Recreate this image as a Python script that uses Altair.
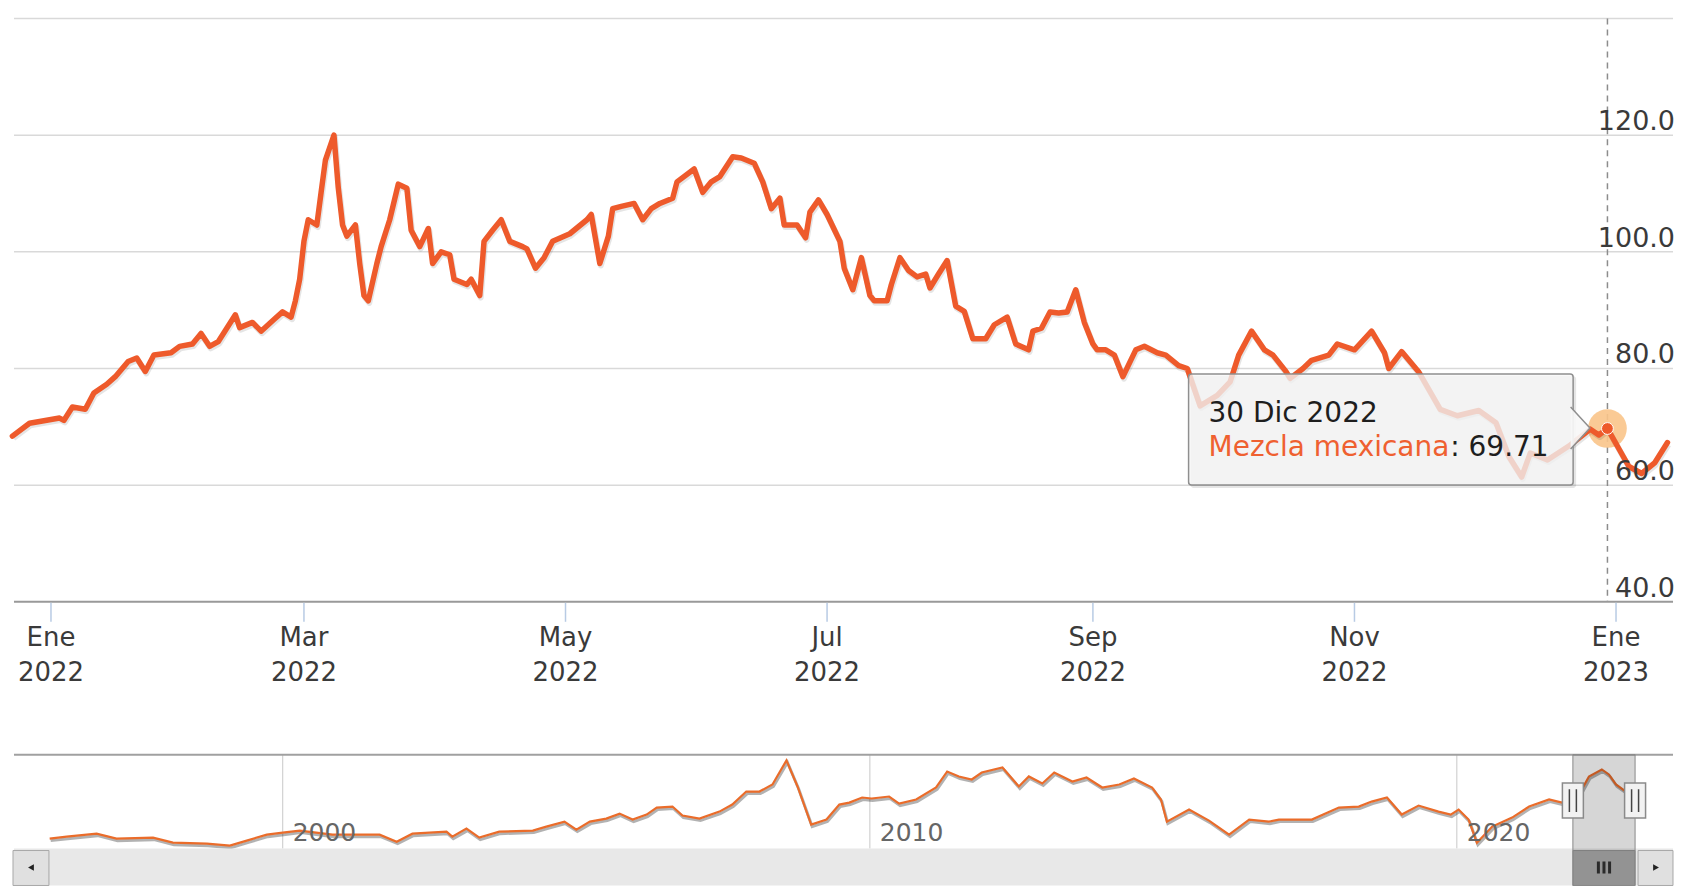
import altair as alt
import pandas as pd

# ---------------- data ----------------
main_dates = ["2021-12-23","2021-12-27","2022-01-03","2022-01-04","2022-01-06","2022-01-09","2022-01-11","2022-01-14","2022-01-16","2022-01-19",
"2022-01-21","2022-01-23","2022-01-25","2022-01-29","2022-01-31","2022-02-03","2022-02-05","2022-02-07","2022-02-09","2022-02-13",
"2022-02-14","2022-02-17","2022-02-19","2022-02-22","2022-02-24","2022-02-26","2022-02-27","2022-02-28","2022-03-01","2022-03-02",
"2022-03-04","2022-03-05","2022-03-06","2022-03-08","2022-03-09","2022-03-10","2022-03-11","2022-03-13","2022-03-14","2022-03-15",
"2022-03-16","2022-03-18","2022-03-19","2022-03-21","2022-03-23","2022-03-25","2022-03-26","2022-03-28","2022-03-30","2022-03-31",
"2022-04-02","2022-04-04","2022-04-05","2022-04-08","2022-04-09","2022-04-11","2022-04-12","2022-04-14","2022-04-16","2022-04-18",
"2022-04-21","2022-04-22","2022-04-24","2022-04-26","2022-04-28","2022-05-02","2022-05-06","2022-05-07","2022-05-09","2022-05-11",
"2022-05-12","2022-05-14","2022-05-17","2022-05-19","2022-05-21","2022-05-23","2022-05-26","2022-05-27","2022-05-31","2022-06-02",
"2022-06-04","2022-06-06","2022-06-09","2022-06-11","2022-06-14","2022-06-16","2022-06-18","2022-06-20","2022-06-21","2022-06-24",
"2022-06-26","2022-06-27","2022-06-29","2022-07-01","2022-07-04","2022-07-05","2022-07-07","2022-07-09","2022-07-11","2022-07-12",
"2022-07-15","2022-07-16","2022-07-18","2022-07-20","2022-07-22","2022-07-24","2022-07-25","2022-07-27","2022-07-29","2022-07-31",
"2022-08-02","2022-08-04","2022-08-07","2022-08-09","2022-08-12","2022-08-14","2022-08-17","2022-08-18","2022-08-20","2022-08-22",
"2022-08-24","2022-08-26","2022-08-28","2022-08-30","2022-09-01","2022-09-02","2022-09-04","2022-09-06","2022-09-08","2022-09-11",
"2022-09-13","2022-09-16","2022-09-18","2022-09-21","2022-09-23","2022-09-26","2022-09-30","2022-10-03","2022-10-05","2022-10-08",
"2022-10-11","2022-10-13","2022-10-16","2022-10-17","2022-10-20","2022-10-22","2022-10-26","2022-10-28","2022-11-01","2022-11-05",
"2022-11-08","2022-11-09","2022-11-12","2022-11-16","2022-11-21","2022-11-25","2022-11-30","2022-12-04","2022-12-07","2022-12-10",
"2022-12-12","2022-12-16","2022-12-21","2022-12-26","2022-12-28","2022-12-30","2023-01-04","2023-01-07","2023-01-10","2023-01-13"]
main_values = [68.4,70.6,71.5,71.1,73.4,73.0,75.8,77.3,78.6,81.2,
81.8,79.5,82.3,82.7,83.8,84.2,86.0,83.8,84.6,89.2,
87.0,87.9,86.4,88.4,89.7,88.8,91.6,95.3,101.8,105.5,
104.6,110.2,115.7,120.0,111.0,104.6,102.7,104.6,98.0,92.5,
91.6,98.0,100.9,105.5,111.6,110.9,103.7,100.9,104.0,98.0,
100.0,99.5,95.3,94.4,95.3,92.5,101.8,103.7,105.5,101.8,
100.9,100.5,97.2,99.0,101.8,103.1,105.5,106.4,98.0,102.7,
107.4,107.8,108.3,105.5,107.4,108.3,109.2,112.0,114.2,110.2,
112.0,112.9,116.3,116.1,115.2,112.0,107.4,109.2,104.6,104.6,
102.4,106.8,108.9,106.4,101.8,97.2,93.5,99.0,92.5,91.6,
91.6,94.4,99.0,96.8,95.7,96.2,93.8,96.2,98.5,90.7,
89.8,85.1,85.1,87.5,88.8,84.2,83.2,86.4,86.9,89.7,
89.5,89.7,93.5,87.9,84.2,83.2,83.2,82.3,78.6,83.2,
83.8,82.7,82.3,80.5,80.0,73.6,75.4,77.7,82.3,86.4,
83.2,82.3,79.5,78.3,80.0,81.4,82.3,84.2,83.2,86.4,
82.7,80.0,82.9,79.4,73.0,71.9,72.8,70.7,64.9,61.4,
65.5,64.3,66.7,69.6,68.6,69.71,63.2,62.0,63.8,67.3]

nav_dates = ["1996-01-12","1996-04-27","1996-10-30","1997-03-03","1997-10-16","1998-02-17","1998-09-16","1999-02-06","1999-05-22","1999-09-24",
"2000-01-01","2000-04-16","2000-11-06","2001-06-07","2001-08-26","2001-12-10","2002-03-18","2002-07-02","2002-10-16","2002-11-21",
"2003-02-17","2003-05-08","2003-09-09","2004-04-05","2004-06-28","2004-10-19","2005-01-01","2005-03-26","2005-07-06","2005-09-27",
"2005-12-17","2006-03-14","2006-05-16","2006-08-22","2006-10-23","2007-02-06","2007-06-10","2007-08-29","2007-11-24","2008-02-14",
"2008-05-05","2008-07-31","2008-10-08","2009-01-01","2009-04-06","2009-06-25","2009-08-26","2009-11-14","2010-01-12","2010-05-01",
"2010-07-02","2010-10-16","2011-02-17","2011-04-27","2011-07-09","2011-09-27","2011-11-28","2012-04-05","2012-07-16","2012-09-16",
"2012-12-09","2013-02-21","2013-06-14","2013-09-10","2013-12-17","2014-04-02","2014-07-02","2014-10-23","2014-12-17","2015-01-23",
"2015-06-10","2015-10-12","2016-02-14","2016-06-18","2016-10-19","2016-12-20","2017-07-13","2017-12-28","2018-05-01","2018-07-20",
"2018-10-23","2019-01-23","2019-05-08","2019-09-09","2019-11-24","2020-01-12","2020-03-14","2020-05-05","2020-08-08","2020-12-10",
"2021-03-26","2021-07-28","2021-10-16","2022-01-30","2022-04-02","2022-06-21","2022-08-04","2022-09-17","2022-11-18","2023-01-12"]
nav_values = [19.9,22.7,26.9,19.9,21.3,14.2,12.8,10.0,17.1,25.5,
28.3,31.2,25.5,25.5,25.5,15.6,26.9,28.3,29.7,22.7,
34.0,21.3,29.7,31.2,36.8,43.8,32.6,43.8,48.1,55.1,
46.7,53.7,63.6,65.0,52.3,48.1,57.9,67.8,86.1,86.1,
96.0,129.9,93.2,39.6,46.7,67.8,70.6,77.7,76.3,79.1,
69.2,74.9,91.8,114.3,107.3,103.1,112.9,120.0,93.2,107.3,
97.4,112.9,100.2,105.9,91.8,96.0,104.5,91.8,74.9,43.8,
60.8,45.3,25.5,46.7,43.8,46.7,46.7,63.6,65.0,72.0,
77.7,53.7,66.4,57.9,53.7,60.8,46.7,14.2,36.8,49.5,
65.0,74.9,70.6,81.9,107.3,117.2,110.1,96.0,86.1,86.1]

grid_values = [60, 80, 100, 120, 140]
ylabel_values = [40, 60, 80, 100, 120]
xtick_dates = ["2022-01-01","2022-03-01","2022-05-01","2022-07-01","2022-09-01","2022-11-01","2023-01-01"]
xtick_labels = ["Ene\n2022","Mar\n2022","May\n2022","Jul\n2022","Sep\n2022","Nov\n2022","Ene\n2023"]
navtick_dates = ["2000-01-01","2010-01-01","2020-01-01"]
navtick_labels = ["2000","2010","2020"]
series_name = "Mezcla mexicana"
hover_date = "2022-12-30"
hover_header = "30 Dic 2022"
hover_value = 69.71
range_start, range_end = "2021-12-23", "2023-01-14"

# ---------------- layout constants ----------------
W, H = 1661, 868
MAIN_H = 584
NAV_TOP, NAV_BOT, SB_BOT = 737, 831, 868
FONT = "DejaVu Sans"
ORANGE = "#EE5A2B"

def dt(y, m, d, h=0):
    return alt.DateTime(year=y, month=m, date=d, hours=h, utc=True)

main_x = alt.Scale(type="utc", domain=[dt(2021, 12, 23, 9), dt(2023, 1, 14, 7)], range=[0, W])
main_x_sh = alt.Scale(type="utc", domain=[dt(2021, 12, 23, 9), dt(2023, 1, 14, 7)], range=[1, W + 1])
main_y = alt.Scale(domain=[40, 140], range=[MAIN_H, 0])
main_y_sh = alt.Scale(domain=[40, 140], range=[MAIN_H + 2, 2])
nav_x = alt.Scale(type="utc", domain=[dt(1995, 6, 4), dt(2023, 9, 7)], range=[0, W])
nav_x_sh = alt.Scale(type="utc", domain=[dt(1995, 6, 4), dt(2023, 9, 7)], range=[1, W + 1])
nav_y = alt.Scale(domain=[6, 138], range=[NAV_BOT, NAV_TOP])
nav_y_sh = alt.Scale(domain=[6, 138], range=[NAV_BOT + 2, NAV_TOP + 2])

main_df = pd.DataFrame({"date": main_dates, "value": main_values})
nav_df = pd.DataFrame({"date": nav_dates, "value": nav_values})
grid_df = pd.DataFrame({"v": grid_values})
ylab_df = pd.DataFrame({"v": ylabel_values, "t": [f"{v:.1f}" for v in ylabel_values]})
xt_df = pd.DataFrame({"date": xtick_dates, "t": xtick_labels})
nt_df = pd.DataFrame({"date": navtick_dates, "t": navtick_labels})
hover_df = pd.DataFrame({"date": [hover_date], "value": [hover_value], "header": [hover_header],
                         "name": [series_name], "val": [f": {hover_value:.2f}"]})
sel_df = pd.DataFrame({"start": [range_start], "end": [range_end]})
one = pd.DataFrame({"k": [0]})

layers = []

# main gridlines
layers.append(alt.Chart(grid_df).mark_rule(color="#D9D9D9", strokeWidth=1.5).encode(
    y=alt.Y("v:Q", scale=main_y, axis=None), x=alt.value(0), x2=alt.value(W)))
# crosshair
layers.append(alt.Chart(hover_df).mark_rule(color="#8C8C8C", strokeWidth=1.5, strokeDash=[6, 5]).encode(
    x=alt.X("date:T", scale=main_x, axis=None), y=alt.value(0), y2=alt.value(MAIN_H)))
# halo
layers.append(alt.Chart(hover_df).mark_point(filled=True, size=1500, color="#F9C48A", opacity=0.9).encode(
    x=alt.X("date:T", scale=main_x, axis=None), y=alt.Y("value:Q", scale=main_y, axis=None)))
# main series shadow + line
layers.append(alt.Chart(main_df).mark_line(color="#000000", strokeWidth=6, opacity=0.10, strokeJoin="round").encode(
    x=alt.X("date:T", scale=main_x_sh, axis=None), y=alt.Y("value:Q", scale=main_y_sh, axis=None)))
layers.append(alt.Chart(main_df).mark_line(color=ORANGE, strokeWidth=5.5, strokeJoin="round", strokeCap="round").encode(
    x=alt.X("date:T", scale=main_x, axis=None), y=alt.Y("value:Q", scale=main_y, axis=None)))
# hover marker
layers.append(alt.Chart(hover_df).mark_point(filled=True, size=140, fill=ORANGE, stroke="white",
                                             strokeWidth=1, opacity=1).encode(
    x=alt.X("date:T", scale=main_x, axis=None), y=alt.Y("value:Q", scale=main_y, axis=None)))

# y labels (inside, right)
layers.append(alt.Chart(ylab_df).mark_text(align="right", baseline="alphabetic", dy=-5, fontSize=27,
                                           font=FONT, color="#3A3A3A").encode(
    y=alt.Y("v:Q", scale=main_y, axis=None), x=alt.value(W + 2), text="t:N"))

# x axis line, ticks, labels
layers.append(alt.Chart(one).mark_rule(color="#999999", strokeWidth=2).encode(
    x=alt.value(0), x2=alt.value(W), y=alt.value(MAIN_H)))
layers.append(alt.Chart(xt_df).mark_rule(color="#B8CBE4", strokeWidth=1.5).encode(
    x=alt.X("date:T", scale=main_x, axis=None), y=alt.value(MAIN_H + 1), y2=alt.value(MAIN_H + 20)))
layers.append(alt.Chart(xt_df).mark_text(align="center", baseline="alphabetic", lineBreak="\n", lineHeight=35,
                                         fontSize=26, font=FONT, color="#3A3A3A").encode(
    x=alt.X("date:T", scale=main_x, axis=None), y=alt.value(MAIN_H + 44), text="t:N"))

# tooltip
TX0, TX1, TY0, TY1 = 1176, 1561, 356, 467
layers.append(alt.Chart(one).mark_rect(color="#000000", opacity=0.10, cornerRadius=3).encode(
    x=alt.value(TX0 + 2), x2=alt.value(TX1 + 3), y=alt.value(TY0 + 2), y2=alt.value(TY1 + 3)))
layers.append(alt.Chart(one).mark_rect(fill="#F7F7F7", fillOpacity=0.78, stroke="#8F8F8F", strokeWidth=1.5,
                                       cornerRadius=3).encode(
    x=alt.value(TX0), x2=alt.value(TX1), y=alt.value(TY0), y2=alt.value(TY1)))
layers.append(alt.Chart(one).mark_point(shape="M-0.12,-1L0.8,0L-0.12,1", filled=True, size=1764,
                                        fill="#F7F7F7", fillOpacity=0.92, stroke="#8F8F8F",
                                        strokeWidth=1.5, opacity=1).encode(
    x=alt.value(TX1), y=alt.value(410)))
layers.append(alt.Chart(hover_df).mark_text(align="left", baseline="alphabetic", fontSize=28, font=FONT,
                                            color="#1E1E1E").encode(
    x=alt.value(TX0 + 20), y=alt.value(404), text="header:N"))
layers.append(alt.Chart(hover_df).mark_text(align="left", baseline="alphabetic", fontSize=28, font=FONT,
                                            color="#EF6030").encode(
    x=alt.value(TX0 + 20), y=alt.value(438), text="name:N"))
layers.append(alt.Chart(hover_df).mark_text(align="left", baseline="alphabetic", fontSize=28, font=FONT,
                                            color="#1E1E1E").encode(
    x=alt.value(TX0 + 262), y=alt.value(438), text="val:N"))

# ---------------- navigator ----------------
layers.append(alt.Chart(nt_df).mark_rule(color="#C8C8C8", strokeWidth=1).encode(
    x=alt.X("date:T", scale=nav_x, axis=None), y=alt.value(NAV_TOP), y2=alt.value(NAV_BOT)))
layers.append(alt.Chart(nav_df).mark_line(color="#000000", strokeWidth=3, opacity=0.3).encode(
    x=alt.X("date:T", scale=nav_x_sh, axis=None), y=alt.Y("value:Q", scale=nav_y_sh, axis=None)))
layers.append(alt.Chart(nav_df).mark_line(color="#EA6C2A", strokeWidth=2.2).encode(
    x=alt.X("date:T", scale=nav_x, axis=None), y=alt.Y("value:Q", scale=nav_y, axis=None)))
layers.append(alt.Chart(nt_df).mark_text(align="left", baseline="alphabetic", dx=10, fontSize=25, font=FONT,
                                         color="#666666").encode(
    x=alt.X("date:T", scale=nav_x, axis=None), y=alt.value(NAV_BOT - 8), text="t:N"))
layers.append(alt.Chart(one).mark_rule(color="#A0A0A0", strokeWidth=2).encode(
    x=alt.value(0), x2=alt.value(W), y=alt.value(NAV_TOP)))

# scrollbar
layers.append(alt.Chart(one).mark_rect(fill="#E8E8E8").encode(
    x=alt.value(0), x2=alt.value(W), y=alt.value(NAV_BOT), y2=alt.value(SB_BOT)))
layers.append(alt.Chart(one).mark_rect(fill="#E0E0E0", stroke="#A8A8A8", strokeWidth=1).encode(
    x=alt.value(-1), x2=alt.value(35), y=alt.value(NAV_BOT + 2), y2=alt.value(SB_BOT)))
layers.append(alt.Chart(one).mark_rect(fill="#E0E0E0", stroke="#A8A8A8", strokeWidth=1).encode(
    x=alt.value(W - 35), x2=alt.value(W), y=alt.value(NAV_BOT + 2), y2=alt.value(SB_BOT)))
layers.append(alt.Chart(one).mark_point(shape="triangle-left", filled=True, size=45, color="#222222", opacity=1).encode(
    x=alt.value(17), y=alt.value(NAV_BOT + 19)))
layers.append(alt.Chart(one).mark_point(shape="triangle-right", filled=True, size=45, color="#222222", opacity=1).encode(
    x=alt.value(W - 17), y=alt.value(NAV_BOT + 19)))
# thumb
layers.append(alt.Chart(sel_df).mark_rect(fill="#B0B0B0", stroke="#999999", strokeWidth=1).encode(
    x=alt.X("start:T", scale=nav_x, axis=None), x2="end:T", y=alt.value(NAV_BOT + 2), y2=alt.value(SB_BOT)))
layers.append(alt.Chart(sel_df).transform_calculate(mid="(toDate(datum.start) + toDate(datum.end)) / 2").mark_point(
    shape="M-0.7,-0.75V0.75M0,-0.75V0.75M0.7,-0.75V0.75", size=256, stroke="#333333", strokeWidth=3,
    filled=False, opacity=1).encode(
    x=alt.X("mid:T", scale=nav_x, axis=None), y=alt.value(NAV_BOT + 19)))
# mask
layers.append(alt.Chart(sel_df).mark_rect(fill="#000000", fillOpacity=0.16, stroke="#8A8A8A", strokeWidth=1).encode(
    x=alt.X("start:T", scale=nav_x, axis=None), x2="end:T", y=alt.value(NAV_TOP), y2=alt.value(SB_BOT)))
# handles
for fld in ["start", "end"]:
    layers.append(alt.Chart(sel_df).mark_point(shape="M-0.6,-1H0.6V1H-0.6Z", filled=True, size=1225,
                                               fill="#F2F2F2", stroke="#8A8A8A", strokeWidth=1.5, opacity=1).encode(
        x=alt.X(f"{fld}:T", scale=nav_x, axis=None), y=alt.value(783)))
    layers.append(alt.Chart(sel_df).mark_point(shape="M-0.2,-0.65V0.65M0.2,-0.65V0.65", filled=False, size=1225,
                                               stroke="#444444", strokeWidth=1.5, opacity=1).encode(
        x=alt.X(f"{fld}:T", scale=nav_x, axis=None), y=alt.value(783)))

chart = alt.layer(*layers).resolve_scale(x="independent", y="independent").properties(
    width=W, height=H,
    autosize=alt.AutoSizeParams(type="none"),
    padding={"left": 6, "top": 10, "right": 10, "bottom": 0},
    background="white",
).configure_view(stroke=None)

chart.save("out.html", embed_options={"renderer": "svg", "actions": False})
